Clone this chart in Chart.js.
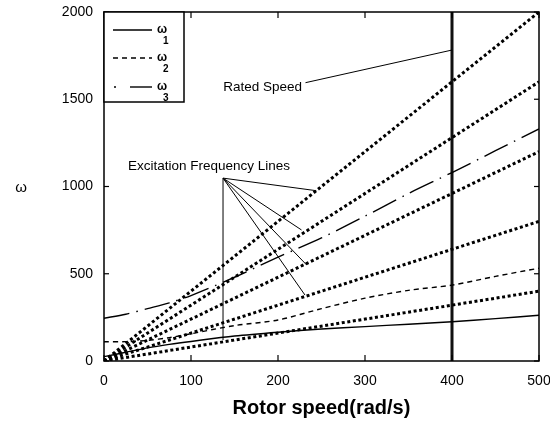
<!DOCTYPE html>
<html>
<head>
<meta charset="utf-8">
<script src="https://cdn.jsdelivr.net/npm/chart.js@4.4.1/dist/chart.umd.min.js"></script>
<style>
  html, body { margin: 0; padding: 0; background: #fff; }
  body { width: 560px; height: 424px; }
  #wrap { width: 550px; height: 424px; overflow: hidden; }
</style>
</head>
<body>
<div id="wrap"><canvas id="c" width="560" height="424"></canvas></div>
<script>
// Natural frequencies against rotor speed (Campbell diagram)
const rotorSpeed = [0, 25, 50, 75, 100, 150, 200, 250, 300, 350, 400, 450, 500];
const omega1 = [25, 50, 75, 95, 112, 143, 165, 183, 197, 211, 225, 243, 262];
const omega2 = [110, 111, 118, 134, 156, 203, 235, 300, 360, 405, 435, 485, 532];
const omega3 = [245, 268, 300, 333, 375, 480, 595, 705, 830, 960, 1080, 1205, 1330];

// Excitation frequency lines, values at the two ends of the speed range
const lineSpeed = [0, 500];
const excitation1 = [0, 400];
const excitation2 = [0, 800];
const excitation3 = [0, 1200];
const excitation4 = [0, 1600];
const excitation5 = [0, 2000];

const ratedSpeed = 400;
const ratedRange = [0, 2000];

const xTicks = [0, 100, 200, 300, 400, 500];
const yTicks = [0, 500, 1000, 1500, 2000];

const pts = (xs, ys) => xs.map((v, i) => ({ x: v, y: ys[i] }));

const FONT = "'Liberation Sans', Arial, sans-serif";

const dotted = {
  borderColor: '#000', borderWidth: 3, borderDash: [3, 2.6],
  pointRadius: 0, showLine: true, fill: false, tension: 0
};

const datasets = [
  Object.assign({ label: 'excitation 1', data: pts(lineSpeed, excitation1) }, dotted),
  Object.assign({ label: 'excitation 2', data: pts(lineSpeed, excitation2) }, dotted),
  Object.assign({ label: 'excitation 3', data: pts(lineSpeed, excitation3) }, dotted),
  Object.assign({ label: 'excitation 4', data: pts(lineSpeed, excitation4) }, dotted),
  Object.assign({ label: 'excitation 5', data: pts(lineSpeed, excitation5) }, dotted),
  { label: 'ω1', data: pts(rotorSpeed, omega1), borderColor: '#000', borderWidth: 1.4,
    pointRadius: 0, showLine: true, tension: 0.3 },
  { label: 'ω2', data: pts(rotorSpeed, omega2), borderColor: '#000', borderWidth: 1.4,
    borderDash: [5, 4], pointRadius: 0, showLine: true, tension: 0.3 },
  { label: 'ω3', data: pts(rotorSpeed, omega3), borderColor: '#000', borderWidth: 1.4,
    borderDash: [26, 7, 1.5, 7], pointRadius: 0, showLine: true, tension: 0.3 },
  { label: 'rated speed', data: pts([ratedSpeed, ratedSpeed], ratedRange), borderColor: '#111',
    borderWidth: 3, pointRadius: 0, showLine: true }
];

function seg(ctx, x1, y1, x2, y2) {
  ctx.beginPath(); ctx.moveTo(x1, y1); ctx.lineTo(x2, y2); ctx.stroke();
}

const decor = {
  id: 'decor',
  afterDraw(chart) {
    const { ctx, chartArea: a, scales: { x, y } } = chart;
    const X = v => x.getPixelForValue(v);
    const Y = v => y.getPixelForValue(v);
    ctx.save();
    ctx.strokeStyle = '#000';
    ctx.fillStyle = '#000';

    // plot frame and inward tick marks on all four sides
    ctx.lineWidth = 1.5;
    ctx.strokeRect(a.left, a.top, a.right - a.left, a.bottom - a.top);
    ctx.lineWidth = 1.2;
    xTicks.forEach(v => {
      seg(ctx, X(v), a.bottom, X(v), a.bottom - 6);
      seg(ctx, X(v), a.top, X(v), a.top + 6);
    });
    yTicks.forEach(v => {
      seg(ctx, a.left, Y(v), a.left + 5, Y(v));
      seg(ctx, a.right, Y(v), a.right - 5, Y(v));
    });

    // vertical axis name
    ctx.font = '15px ' + FONT;
    ctx.textAlign = 'center';
    ctx.textBaseline = 'middle';
    ctx.fillText('ω', 21, 188);

    // rated speed note
    ctx.lineWidth = 1;
    ctx.font = '13.5px ' + FONT;
    ctx.textAlign = 'right';
    ctx.fillText('Rated Speed', X(227.6), Y(1570));
    seg(ctx, X(231.6), Y(1595), X(ratedSpeed), Y(1782));

    // excitation lines note with leaders
    ctx.fillText('Excitation Frequency Lines', X(213.8), Y(1117));
    const apex = [136.8, 1048];
    [[244, 976], [227, 751], [233, 550], [231, 378], [136.8, 120]].forEach(p => {
      seg(ctx, X(apex[0]), Y(apex[1]), X(p[0]), Y(p[1]));
    });

    // legend box
    const lx = a.left, ly = a.top, lw = 80, lh = 90;
    ctx.fillStyle = '#fff';
    ctx.fillRect(lx, ly, lw, lh);
    ctx.fillStyle = '#000';
    ctx.lineWidth = 1.5;
    ctx.strokeRect(lx, ly, lw, lh);
    const entries = [datasets[5], datasets[6], datasets[7]];
    const rows = [18, 46, 75];
    entries.forEach((ds, i) => {
      ctx.save();
      ctx.lineWidth = ds.borderWidth;
      ctx.setLineDash(ds.borderDash || []);
      if (i === 2) {
        ctx.setLineDash([]);
        seg(ctx, lx + 10, ly + rows[i], lx + 12, ly + rows[i]);
        seg(ctx, lx + 26, ly + rows[i], lx + 48, ly + rows[i]);
      } else {
        seg(ctx, lx + 9, ly + rows[i], lx + 48, ly + rows[i]);
      }
      ctx.restore();
      ctx.textAlign = 'left';
      ctx.textBaseline = 'middle';
      ctx.font = 'bold 12px ' + FONT;
      ctx.fillText('ω', lx + 53, ly + rows[i]);
      ctx.font = 'bold 10px ' + FONT;
      ctx.fillText(String(i + 1), lx + 59, ly + rows[i] + 11);
    });
    ctx.restore();
  }
};

new Chart(document.getElementById('c'), {
  type: 'scatter',
  data: { datasets },
  options: {
    responsive: false,
    devicePixelRatio: 1,
    animation: false,
    layout: { padding: { top: 12, right: 21, left: 0, bottom: 0 } },
    plugins: { legend: { display: false }, tooltip: { enabled: false } },
    scales: {
      x: {
        type: 'linear', min: 0, max: 500,
        afterBuildTicks: s => { s.ticks = xTicks.map(v => ({ value: v })); },
        afterFit: s => { s.height = 63; s.paddingLeft = 0; s.paddingRight = 0; },
        grid: { display: false, drawTicks: false },
        border: { display: false },
        ticks: { color: '#000', padding: 12, font: { family: FONT, size: 14 },
                 callback: v => String(v) },
        title: { display: true, text: 'Rotor speed(rad/s)', color: '#000',
                 padding: { top: 0, bottom: 4 }, font: { family: FONT, size: 20, weight: 'bold' } }
      },
      y: {
        type: 'linear', min: 0, max: 2000,
        afterBuildTicks: s => { s.ticks = yTicks.map(v => ({ value: v })); },
        afterFit: s => { s.width = 104; s.paddingTop = 0; s.paddingBottom = 0; },
        grid: { display: false, drawTicks: false },
        border: { display: false },
        ticks: { color: '#000', padding: 11, font: { family: FONT, size: 14 },
                 callback: v => String(v) }
      }
    }
  },
  plugins: [decor]
});
</script>
</body>
</html>
